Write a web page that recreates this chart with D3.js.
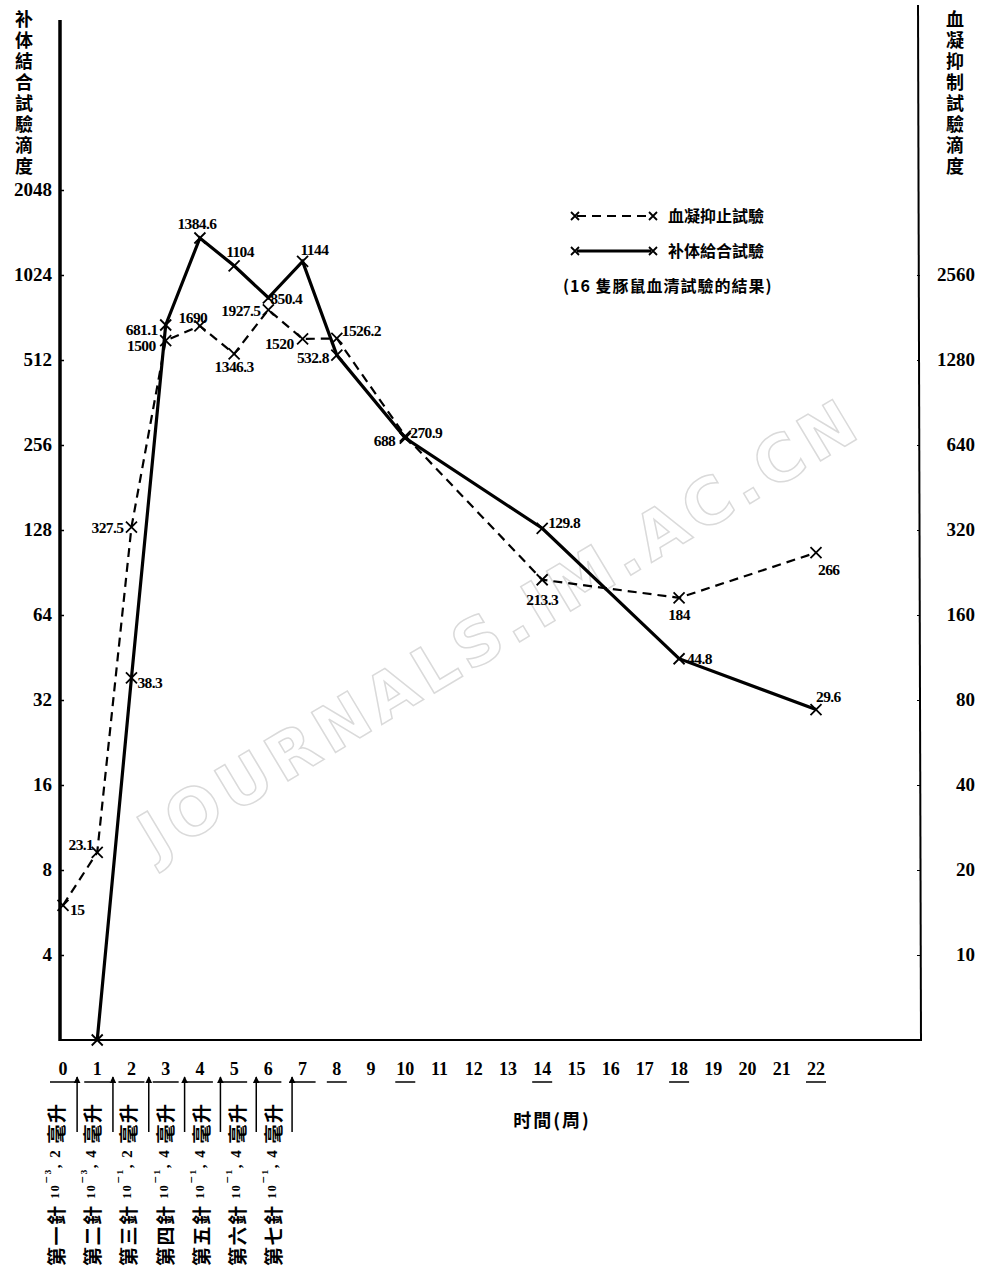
<!DOCTYPE html>
<html>
<head>
<meta charset="utf-8">
<script src="https://cdn.jsdelivr.net/npm/d3@7"></script>
<style>
  body { margin: 0; background: #fff; }
  svg { display: block; }
  .num { font-family: "Liberation Serif", "DejaVu Serif", serif; font-weight: bold; }
  .cjk { font-family: "Noto Sans CJK TC", "Noto Sans CJK SC", sans-serif; font-weight: bold; }
  .vert { writing-mode: vertical-rl; text-orientation: upright; }
</style>
</head>
<body>
<script>
// ---- data ----
// 血凝抑止試驗 (dashed, right axis)
const hiWeeks  = [0, 1, 2, 3, 4, 5, 6, 7, 8, 10, 14, 18, 22];
const hiValues = [15, 23.1, 327.5, 1500, 1690, 1346.3, 1927.5, 1520, 1526.2, 688, 213.3, 184, 266];
// 补体結合試驗 (solid, left axis); week 1 sits on the bottom of the axis, no label
const cfWeeks  = [1, 2, 3, 4, 5, 6, 7, 8, 10, 14, 18, 22];
const cfValues = [2, 38.3, 681.1, 1384.6, 1104, 850.4, 1144, 532.8, 270.9, 129.8, 44.8, 29.6];

const leftTicks  = [4, 8, 16, 32, 64, 128, 256, 512, 1024, 2048];
const rightTicks = [10, 20, 40, 80, 160, 320, 640, 1280, 2560];
const weekTicks  = d3.range(0, 23);
const sampledWeeks = [0, 1, 2, 3, 4, 5, 6, 7, 8, 10, 14, 18, 22];

const leftTitle  = "补体結合試驗滴度";
const rightTitle = "血凝抑制試驗滴度";
const xTitle = "时間(周)";
const legendNames = ["血凝抑止試驗", "补体給合試驗"];
const legendNote = "(16 隻豚鼠血清試驗的結果)";

// injections: ordinal, dilution exponent, ml
const injNames = ["第一針", "第二針", "第三針", "第四針", "第五針", "第六針", "第七針"];
const injExp   = ["⁻³", "⁻³", "⁻¹", "⁻¹", "⁻¹", "⁻¹", "⁻¹"];
const injMl    = [2, 4, 2, 4, 4, 4, 4];

// label placement (dx, dy, anchor) for each point
const hiLabelPos = [[7,10,"start"],[-4,-2,"end"],[-8,6,"end"],[-10,10,"end"],[-7,-3,"middle"],
  [0,18,"middle"],[-8,6,"end"],[-9,10,"end"],[5,-2,"start"],[-10,10,"end"],[0,25,"middle"],
  [0,22,"middle"],[2,22,"start"]];
const cfLabelPos = [null,[6,10,"start"],[-8,10,"end"],[-3,-9,"middle"],[-8,-9,"start"],
  [2,6,"start"],[-2,-6,"start"],[-8,8,"end"],[5,0,"start"],[6,0,"start"],[8,5,"start"],[0,-8,"start"]];

// ---- layout ----
const W = 986, H = 1272;
const svg = d3.select("body").append("svg").attr("width", W).attr("height", H);

const x  = d3.scaleLinear().domain([0, 22]).range([63, 816]);
const yL = d3.scaleLog().base(2).domain([2, 2048]).range([1040, 190]);
const yR = d3.scaleLog().base(2).domain([5, 5120]).range([1040, 190]);

// watermark
svg.append("text")
  .attr("transform", "translate(500,628) rotate(-31)")
  .attr("text-anchor", "middle").attr("dominant-baseline", "central")
  .style("font-family", "'DejaVu Sans', sans-serif").style("font-weight", "bold")
  .attr("font-size", 64).attr("letter-spacing", 6)
  .attr("fill", "none").attr("stroke", "#dadada").attr("stroke-width", 1.5)
  .text("JOURNALS.IM.AC.CN");

// axes frame lines
svg.append("line").attr("x1", 60).attr("x2", 60).attr("y1", 20).attr("y2", 1041)
  .attr("stroke", "#000").attr("stroke-width", 3.5);
svg.append("line").attr("x1", 918).attr("x2", 921).attr("y1", 5).attr("y2", 1041)
  .attr("stroke", "#000").attr("stroke-width", 2);
svg.append("line").attr("x1", 60).attr("x2", 921).attr("y1", 1040).attr("y2", 1040)
  .attr("stroke", "#000").attr("stroke-width", 2);

// left axis
const gL = svg.append("g").attr("transform", "translate(60,0)")
  .call(d3.axisRight(yL).tickValues(leftTicks).tickSize(4).tickFormat(""));
gL.select(".domain").remove();
gL.selectAll(".tick line").attr("stroke-width", 1.5);
svg.append("g").selectAll("text").data(leftTicks).join("text")
  .attr("class", "num").attr("x", 52).attr("y", d => yL(d) + 6)
  .attr("text-anchor", "end").attr("font-size", 19).text(d => d);

// right axis
const gR = svg.append("g").attr("transform", "translate(920,0)")
  .call(d3.axisLeft(yR).tickValues(rightTicks).tickSize(3).tickFormat(""));
gR.select(".domain").remove();
svg.append("g").selectAll("text").data(rightTicks).join("text")
  .attr("class", "num").attr("x", 975).attr("y", d => yR(d) + 6)
  .attr("text-anchor", "end").attr("font-size", 19).text(d => d);

// vertical titles
svg.append("text").attr("class", "cjk vert").attr("x", 24).attr("y", 10)
  .attr("font-size", 18).attr("letter-spacing", 3).text(leftTitle);
svg.append("text").attr("class", "cjk vert").attr("x", 955).attr("y", 10)
  .attr("font-size", 18).attr("letter-spacing", 3).text(rightTitle);

// x axis tick labels
const gX = svg.append("g").attr("transform", "translate(0,1040)")
  .call(d3.axisBottom(x).tickValues(weekTicks).tickSize(0).tickPadding(0).tickFormat(""));
gX.select(".domain").remove();
svg.append("g").selectAll("text").data(weekTicks).join("text")
  .attr("class", "num").attr("x", d => x(d)).attr("y", 1075)
  .attr("text-anchor", "middle").attr("font-size", 18).text(d => d);
svg.append("g").selectAll("line").data(sampledWeeks).join("line")
  .attr("x1", d => x(d) - (d <= 7 ? 13 : 10)).attr("x2", d => x(d) + (d <= 7 ? 13 : 10))
  .attr("y1", 1082).attr("y2", 1082).attr("stroke", "#000").attr("stroke-width", 1.5);

svg.append("text").attr("class", "cjk").attr("x", 552).attr("y", 1127)
  .attr("text-anchor", "middle").attr("font-size", 18).attr("letter-spacing", 2).text(xTitle);

// injection arrows
const defs = svg.append("defs");
defs.append("marker").attr("id", "arr").attr("viewBox", "0 0 10 10")
  .attr("refX", 9).attr("refY", 5).attr("markerWidth", 7).attr("markerHeight", 7)
  .attr("markerUnits", "userSpaceOnUse").attr("orient", "auto")
  .append("path").attr("d", "M0,0 L10,5 L0,10 Z").attr("fill", "#000");
svg.append("g").selectAll("line").data(injNames).join("line")
  .attr("x1", (d, i) => x(i + 0.5) - 3 + i * 1.6).attr("x2", (d, i) => x(i + 0.5) - 3 + i * 1.6)
  .attr("y1", 1132).attr("y2", 1077)
  .attr("stroke", "#000").attr("stroke-width", 1.5).attr("marker-end", "url(#arr)");

// injection descriptions (rotated)
const inj = svg.append("g").selectAll("text").data(injNames).join("text")
  .attr("class", "cjk").attr("font-size", 19).attr("letter-spacing", 1.5)
  .attr("dominant-baseline", "central")
  .attr("transform", (d, i) => `translate(${x(i) - 8 + i * 2},1266) rotate(-90)`);
inj.append("tspan").text(d => d + " ");
inj.append("tspan").attr("class", "num").attr("font-size", 12).text("10");
inj.append("tspan").attr("class", "num").attr("font-size", 15).attr("dy", -5).text((d, i) => injExp[i]);
inj.append("tspan").attr("class", "num").attr("font-size", 15).attr("dy", 5).text((d, i) => ", " + injMl[i] + " ");
inj.append("tspan").text("毫升");

// ---- series ----
const hiPts = hiWeeks.map((w, i) => ({x: x(w), y: yR(hiValues[i]), v: hiValues[i], p: hiLabelPos[i]}));
const cfPts = cfWeeks.map((w, i) => ({x: x(w), y: yL(cfValues[i]), v: cfValues[i], p: cfLabelPos[i]}));
const line = d3.line().x(d => d.x).y(d => d.y);

svg.append("path").datum(hiPts).attr("d", line).attr("fill", "none")
  .attr("stroke", "#000").attr("stroke-width", 2.2).attr("stroke-dasharray", "9,6");
svg.append("path").datum(cfPts).attr("d", line).attr("fill", "none")
  .attr("stroke", "#000").attr("stroke-width", 3.2);

function crosses(pts) {
  svg.append("g").selectAll("path").data(pts).join("path")
    .attr("d", d => `M${d.x - 5.5},${d.y - 5.5}L${d.x + 5.5},${d.y + 5.5}M${d.x + 5.5},${d.y - 5.5}L${d.x - 5.5},${d.y + 5.5}`)
    .attr("stroke", "#000").attr("stroke-width", 1.8);
}
crosses(hiPts);
crosses(cfPts);

function labels(pts) {
  svg.append("g").selectAll("text").data(pts.filter(d => d.p)).join("text")
    .attr("class", "num").attr("font-size", 15.5).attr("letter-spacing", -0.6)
    .attr("x", d => d.x + d.p[0]).attr("y", d => d.y + d.p[1])
    .attr("text-anchor", d => d.p[2]).text(d => d.v);
}
labels(hiPts);
labels(cfPts);

// ---- legend ----
const lg = svg.append("g").attr("transform", "translate(575,0)");
[0, 1].forEach(i => {
  const ly = 216 + i * 35;
  lg.append("line").attr("x1", 2).attr("x2", 76).attr("y1", ly).attr("y2", ly)
    .attr("stroke", "#000").attr("stroke-width", i ? 3 : 2.2)
    .attr("stroke-dasharray", i ? null : "9,6");
  [0, 78].forEach(cx => lg.append("path")
    .attr("d", `M${cx - 4},${ly - 4}L${cx + 4},${ly + 4}M${cx + 4},${ly - 4}L${cx - 4},${ly + 4}`)
    .attr("stroke", "#000").attr("stroke-width", 1.8));
  lg.append("text").attr("class", "cjk").attr("x", 93).attr("y", ly + 6)
    .attr("font-size", 16).text(legendNames[i]);
});
lg.append("text").attr("class", "cjk").attr("x", -12).attr("y", 292)
  .attr("font-size", 16).attr("letter-spacing", 1).text(legendNote);
</script>
</body>
</html>
